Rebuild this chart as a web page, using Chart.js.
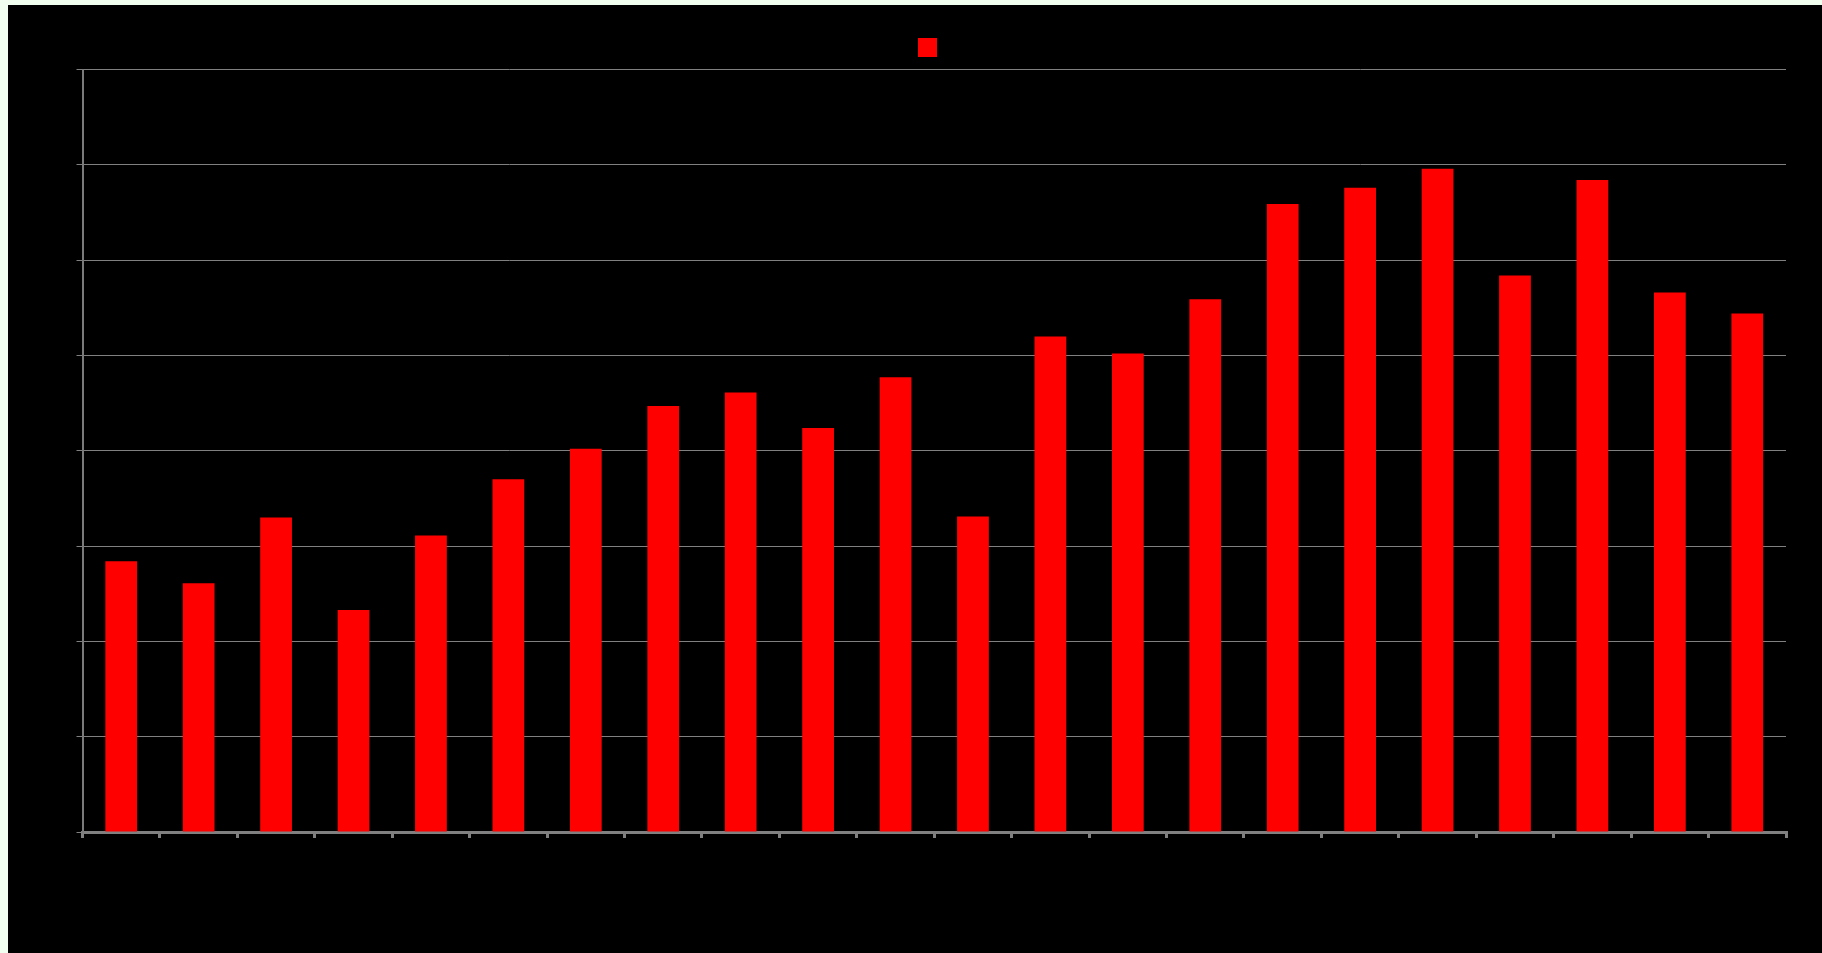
<!DOCTYPE html>
<html>
<head>
<meta charset="utf-8">
<script src="https://cdn.jsdelivr.net/npm/chart.js@4/dist/chart.umd.min.js"></script>
<style>
  html, body { margin: 0; padding: 0; background: #f0fff0; width: 1822px; height: 953px; overflow: hidden; }
  #wrap { position: absolute; left: 8px; top: 5px; width: 1814px; height: 948px; background: #000000; }
  canvas { display: block; }
</style>
</head>
<body>
<div id="wrap"><canvas id="c" width="1814" height="948"></canvas></div>
<script>
const categories = ["1","2","3","4","5","6","7","8","9","10","11","12","13","14","15","16","17","18","19","20","21","22"];
const seriesLabel = "";
const seriesValues = [2.84, 2.61, 3.30, 2.33, 3.11, 3.70, 4.02, 4.47, 4.61, 4.24, 4.77, 3.31, 5.20, 5.02, 5.59, 6.59, 6.76, 6.96, 5.84, 6.84, 5.66, 5.44];
const yMin = 0, yMax = 8, yStep = 1;

new Chart(document.getElementById('c'), {
  type: 'bar',
  data: {
    labels: categories,
    datasets: [{
      label: seriesLabel,
      data: seriesValues,
      backgroundColor: '#ff0000',
      borderWidth: 0,
      barPercentage: 0.41,
      categoryPercentage: 1.0
    }]
  },
  options: {
    responsive: false,
    animation: false,
    layout: { padding: { left: 73, right: 36, top: 20.5, bottom: 0 } },
    plugins: {
      tooltip: { enabled: false },
      legend: {
        display: true,
        position: 'top',
        align: 'center',
        labels: { boxWidth: 19, boxHeight: 19, padding: 10, font: { size: 24 }, color: '#000000' }
      }
    },
    scales: {
      x: {
        ticks: { display: false },
        grid: { display: true, drawOnChartArea: false, drawTicks: true, tickLength: 6, lineWidth: 3, color: '#808080', offset: true },
        border: { display: true, color: '#808080', width: 3 },
        afterFit: (s) => { s.height = 121; }
      },
      y: {
        min: yMin, max: yMax,
        ticks: { display: false, stepSize: yStep },
        grid: { display: true, color: '#808080', lineWidth: 1, tickLength: 6 },
        border: { display: true, color: '#7a7a7a', width: 2 },
        afterFit: (s) => { s.width = 1.5; }
      }
    }
  }
});
</script>
</body>
</html>
